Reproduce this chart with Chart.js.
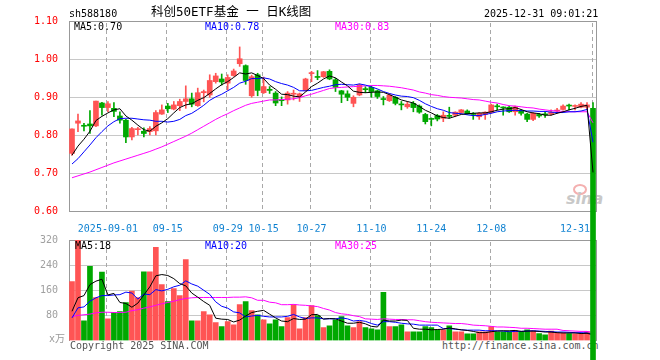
<!DOCTYPE html>
<html lang="zh-CN">
<head>
<meta charset="UTF-8">
<title>科创50ETF基金 一 日K线图</title>
<script src="https://cdn.jsdelivr.net/npm/chart.js"></script>
<style>
  body { margin: 0; background: #fff; }
  #box { position: relative; width: 660px; height: 360px; overflow: hidden; background: #fff; }
  #box canvas { position: absolute; left: 0; top: 0; }
  .t { position: absolute; font: 10px/10px "DejaVu Sans Mono", monospace; white-space: pre; color: #000; }
</style>
</head>
<body>
<div id="box">
  <!-- under the charts: the big last candle covers these -->
  <div class="t" style="left:442px;top:341px;color:#555">http://finance.sina.com.cn</div>
  <div style="position:absolute;left:573px;top:184px;width:10px;height:7px;border:2px solid #f4b0b0;border-radius:50%"></div>
  <div class="t" style="left:566px;top:191px;font:italic bold 16px/16px 'DejaVu Sans',sans-serif;color:#c8c8c8">sina</div>

  <canvas id="volChart" width="660" height="360"></canvas>
  <canvas id="kChart" width="660" height="360"></canvas>

  <div class="t" style="left:69px;top:9px">sh588180</div>
  <div class="t" style="left:151px;top:5px;font-size:12.5px;line-height:13px;font-family:'DejaVu Sans Mono','Noto Sans CJK SC',monospace">科创50ETF基金 一 日K线图</div>
  <div class="t" style="left:484px;top:9px">2025-12-31 09:01:21</div>
  <div class="t" style="left:74px;top:22px">MA5:0.70</div>
  <div class="t" style="left:205px;top:22px;color:#0000ff">MA10:0.78</div>
  <div class="t" style="left:335px;top:22px;color:#ff00ff">MA30:0.83</div>
  <div class="t" style="left:75px;top:241px">MA5:18</div>
  <div class="t" style="left:205px;top:241px;color:#0000ff">MA10:20</div>
  <div class="t" style="left:335px;top:241px;color:#ff00ff">MA30:25</div>
  <div class="t" style="left:49px;top:334px;color:#999;font-family:'DejaVu Sans Mono','Noto Sans CJK SC',monospace">x万</div>
  <div class="t" style="left:70px;top:341px;color:#555">Copyright 2025 SINA.COM</div>
</div>

<script>
    // 交易日 (2025)
    let days = [
        '08-22','08-25','08-26','08-27','08-28','08-29','09-01','09-02','09-03','09-04',
        '09-05','09-08','09-09','09-10','09-11','09-12','09-15','09-16','09-17','09-18',
        '09-19','09-22','09-23','09-24','09-25','09-26','09-29','09-30','10-09','10-10',
        '10-13','10-14','10-15','10-16','10-17','10-20','10-21','10-22','10-23','10-24',
        '10-27','10-28','10-29','10-30','10-31','11-03','11-04','11-05','11-06','11-07',
        '11-10','11-11','11-12','11-13','11-14','11-17','11-18','11-19','11-20','11-21',
        '11-24','11-25','11-26','11-27','11-28','12-01','12-02','12-03','12-04','12-05',
        '12-08','12-09','12-10','12-11','12-12','12-15','12-16','12-17','12-18','12-19',
        '12-22','12-23','12-24','12-25','12-26','12-29','12-30','12-31'
    ];
    let tickDays = ['09-01','09-15','09-29','10-15','10-27','11-10','11-24','12-08','12-31'];
    let tickText = ['2025-09-01','09-15','09-29','10-15','10-27','11-10','11-24','12-08','12-31      '];
    let priceTicks = [0.70, 0.80, 0.90, 1.00];
    let volTicks = [80, 160, 240];

    let open = [
        0.753,0.832,0.826,0.830,0.825,0.885,0.873,0.871,0.851,0.840,
        0.796,0.815,0.811,0.810,0.812,0.856,0.877,0.869,0.878,0.889,
        0.896,0.878,0.912,0.906,0.941,0.948,0.937,0.957,0.988,0.983,
        0.904,0.959,0.912,0.921,0.911,0.893,0.893,0.908,0.902,0.918,
        0.962,0.954,0.954,0.968,0.946,0.917,0.909,0.884,0.906,0.922,
        0.926,0.917,0.896,0.891,0.900,0.881,0.875,0.884,0.877,0.855,
        0.843,0.852,0.845,0.852,0.853,0.860,0.864,0.856,0.849,0.855,
        0.860,0.876,0.873,0.874,0.862,0.864,0.856,0.842,0.855,0.855,
        0.856,0.864,0.868,0.878,0.876,0.874,0.874,0.871
    ];
    let high = [
        0.817,0.856,0.832,0.865,0.890,0.887,0.889,0.886,0.862,0.842,
        0.821,0.821,0.820,0.823,0.865,0.880,0.884,0.889,0.895,0.930,
        0.911,0.924,0.919,0.959,0.963,0.961,0.959,0.974,1.032,0.985,
        0.958,0.963,0.953,0.928,0.915,0.901,0.915,0.919,0.911,0.950,
        0.968,0.970,0.968,0.972,0.950,0.918,0.917,0.904,0.935,0.928,
        0.930,0.919,0.902,0.910,0.902,0.889,0.889,0.889,0.880,0.858,
        0.846,0.855,0.862,0.874,0.862,0.868,0.867,0.860,0.860,0.862,
        0.882,0.882,0.875,0.877,0.877,0.868,0.858,0.860,0.858,0.862,
        0.867,0.871,0.880,0.882,0.880,0.886,0.886,0.886
    ];
    let low = [
        0.748,0.810,0.812,0.805,0.823,0.853,0.862,0.849,0.832,0.781,
        0.788,0.801,0.796,0.801,0.801,0.855,0.860,0.867,0.865,0.871,
        0.875,0.876,0.888,0.900,0.937,0.932,0.919,0.955,0.981,0.934,
        0.900,0.904,0.910,0.910,0.878,0.878,0.882,0.893,0.889,0.916,
        0.941,0.946,0.952,0.946,0.915,0.886,0.891,0.875,0.904,0.912,
        0.900,0.897,0.880,0.889,0.880,0.867,0.871,0.862,0.858,0.830,
        0.825,0.838,0.836,0.845,0.849,0.858,0.855,0.842,0.842,0.842,
        0.858,0.867,0.853,0.860,0.853,0.853,0.836,0.839,0.847,0.847,
        0.853,0.858,0.866,0.867,0.867,0.872,0.868,0
    ];
    let close = [
        0.817,0.838,0.824,0.825,0.890,0.873,0.883,0.863,0.840,0.796,
        0.818,0.817,0.805,0.818,0.860,0.867,0.870,0.880,0.889,0.896,
        0.882,0.912,0.915,0.944,0.956,0.940,0.952,0.969,1.001,0.944,
        0.954,0.918,0.928,0.918,0.885,0.891,0.911,0.910,0.909,0.948,
        0.964,0.952,0.967,0.948,0.926,0.908,0.900,0.900,0.932,0.920,
        0.915,0.902,0.894,0.906,0.884,0.880,0.882,0.873,0.861,0.836,
        0.842,0.843,0.853,0.850,0.861,0.867,0.856,0.855,0.858,0.861,
        0.880,0.875,0.872,0.862,0.875,0.858,0.842,0.858,0.851,0.854,
        0.861,0.865,0.877,0.877,0.877,0.882,0.880,0
    ];

    let ma5 = [
        0.748,0.772,0.790,0.811,0.839,0.850,0.859,0.867,0.870,0.851,
        0.840,0.827,0.815,0.811,0.824,0.833,0.844,0.859,0.873,0.880,
        0.883,0.892,0.899,0.910,0.922,0.933,0.941,0.952,0.964,0.961,
        0.964,0.957,0.949,0.932,0.921,0.908,0.907,0.903,0.901,0.914,
        0.928,0.937,0.948,0.956,0.951,0.940,0.930,0.916,0.913,0.912,
        0.913,0.914,0.913,0.907,0.900,0.893,0.889,0.885,0.876,0.866,
        0.859,0.851,0.847,0.845,0.850,0.855,0.857,0.858,0.859,0.859,
        0.862,0.866,0.869,0.870,0.873,0.868,0.862,0.859,0.857,0.853,
        0.853,0.858,0.862,0.867,0.871,0.876,0.879,0.703
    ];
    let ma10 = [
        0.725,0.739,0.757,0.775,0.794,0.810,0.825,0.836,0.844,0.845,
        0.845,0.843,0.841,0.840,0.837,0.837,0.835,0.837,0.842,0.852,
        0.858,0.868,0.879,0.892,0.901,0.908,0.917,0.926,0.937,0.942,
        0.949,0.949,0.951,0.948,0.941,0.936,0.932,0.926,0.917,0.917,
        0.918,0.922,0.926,0.929,0.933,0.934,0.933,0.932,0.935,0.932,
        0.927,0.922,0.915,0.910,0.906,0.903,0.902,0.899,0.892,0.883,
        0.876,0.870,0.866,0.860,0.858,0.857,0.854,0.852,0.852,0.855,
        0.858,0.862,0.864,0.865,0.866,0.865,0.864,0.864,0.863,0.863,
        0.861,0.860,0.860,0.862,0.862,0.864,0.868,0.782
    ];
    let ma30 = [
        0.689,0.694,0.699,0.704,0.710,0.716,0.722,0.728,0.733,0.738,
        0.743,0.748,0.753,0.758,0.764,0.770,0.777,0.784,0.791,0.798,
        0.806,0.815,0.824,0.833,0.842,0.850,0.857,0.865,0.872,0.879,
        0.884,0.887,0.890,0.893,0.893,0.894,0.895,0.896,0.899,0.904,
        0.908,0.913,0.918,0.923,0.925,0.926,0.927,0.928,0.929,0.930,
        0.931,0.931,0.930,0.929,0.927,0.925,0.922,0.919,0.914,0.911,
        0.907,0.905,0.902,0.900,0.899,0.898,0.896,0.894,0.893,0.890,
        0.887,0.885,0.881,0.878,0.877,0.875,0.873,0.872,0.869,0.867,
        0.865,0.864,0.863,0.862,0.862,0.862,0.862,0.833
    ];

    // 成交量 (万手)
    let vol = [
        188,322,63,236,137,218,69,90,92,121,
        157,137,219,219,297,178,124,165,143,258,
        63,63,92,82,57,44,60,50,114,124,
        95,82,66,53,66,44,73,114,37,73,
        111,79,41,47,66,76,47,41,60,41,
        37,34,153,44,44,50,28,28,28,44,
        41,34,34,47,28,28,21,21,28,28,
        44,28,28,28,31,28,34,31,22,18,
        30,24,24,22,21,21,28,0
    ];
    let volMa5 = [
        93,136,143,178,189,195,145,150,121,118,
        106,119,145,171,206,210,207,197,181,174,
        151,138,124,112,71,68,67,59,65,78,
        89,93,96,84,72,62,60,70,67,68,
        82,83,68,70,69,62,55,55,58,53,
        45,43,65,62,62,65,64,39,36,36,
        34,35,36,40,37,34,32,29,25,25,
        28,30,31,31,32,29,30,30,29,27,
        27,25,24,24,24,22,23,18
    ];
    let volMa10 = [
        72,104,107,125,136,143,143,145,146,154,
        151,132,148,146,162,158,163,171,176,190,
        180,173,160,147,123,109,103,91,88,75,
        78,80,77,75,75,75,77,83,75,70,
        72,72,69,69,69,72,69,62,64,61,
        54,49,60,60,58,55,53,52,49,49,
        49,49,38,38,36,34,33,33,33,31,
        31,31,30,28,29,29,30,31,30,29,
        28,27,27,26,25,25,24,20
    ];
    let volMa30 = [
        76,80,82,84,88,90,90,89,89,90,
        95,98,103,107,112,117,121,125,130,134,
        136,137,137,137,137,137,137,138,138,139,
        136,128,128,122,120,114,114,115,113,112,
        110,108,102,97,89,85,83,79,76,69,
        68,67,69,68,67,67,66,66,63,60,
        58,57,56,55,54,54,52,49,48,47,
        45,43,43,42,41,39,39,38,37,36,
        36,36,32,31,30,29,29,25
    ];

    Chart.defaults.font.family = '"DejaVu Sans Mono", monospace';
    Chart.defaults.font.size = 10;
    Chart.defaults.animation = false;

    let colors = close.map((c, i) => c >= open[i] ? '#ff5454' : '#00a800');
    let bodies = open.map((o, i) => [o, close[i]]);
    let wicks = low.map((l, i) => [l, high[i]]);

    function tickLabel(i) {
        let k = tickDays.indexOf(days[i]);
        return k >= 0 ? tickText[k] : '';
    }

    // grid and gray frame, placed with the chart's own scales
    let frame = {
        id: 'frame',
        beforeDatasetsDraw(chart, args, opts) {
            let a = chart.chartArea, c = chart.ctx;
            let xs = chart.scales.x, ys = chart.scales.y;
            let L = Math.floor(a.left), R = Math.floor(a.right);
            let T = Math.floor(a.top), B = Math.floor(a.bottom);
            c.save();

            // horizontal grid (dotted in the original, drawn as a light line)
            c.fillStyle = '#c8c8c8';
            opts.yLines.forEach(v => {
                let y = Math.floor(ys.getPixelForValue(v));
                c.fillRect(L + 1, y, R - L - 1, 1);
            });

            // vertical dashed grid
            c.fillStyle = '#a8a8a8';
            tickDays.forEach(d => {
                let x = Math.floor(xs.getPixelForValue(days.indexOf(d))) - 1;
                for (let y = T + 2; y < B; y += 7) c.fillRect(x, y, 1, Math.min(4, B - y));
            });

            c.fillStyle = '#999999';
            c.fillRect(L, T, R - L + 1, 1);
            c.fillRect(L, T, 1, B - T + 1);
            c.fillRect(R, T, 1, B - T + 1);
            if (opts.bottom) c.fillRect(L, B, R - L + 1, 1);
            c.restore();
        }
    };

    function maLine(data, color) {
        return { type: 'line', data: data, borderColor: color, borderWidth: 1, pointRadius: 0, tension: 0, order: 0 };
    }

    // K线
    new Chart(document.getElementById('kChart'), {
        type: 'bar',
        data: {
            labels: days,
            datasets: [
                maLine(ma5, '#000000'),
                maLine(ma10, '#0000ff'),
                maLine(ma30, '#ff00ff'),
                { data: wicks, backgroundColor: colors, barThickness: 1, grouped: false, clip: false, order: 2 },
                { data: bodies, backgroundColor: colors, barThickness: 5, minBarLength: 1, grouped: false, clip: false, order: 1 }
            ]
        },
        options: {
            responsive: false,
            events: [],
            layout: { padding: { top: 21, right: 64, bottom: 128.3, left: 0 } },
            plugins: { legend: { display: false }, tooltip: { enabled: false }, frame: { bottom: true, yLines: priceTicks } },
            scales: {
                x: {
                    grid: { display: false },
                    border: { display: false },
                    ticks: { autoSkip: false, maxRotation: 0, minRotation: 0, padding: 4, color: '#0a7fd0', callback: (v, i) => tickLabel(i) },
                    afterFit: s => { s.height = 20; }
                },
                y: {
                    min: 0.6,
                    max: 1.1,
                    grid: { display: false },
                    border: { display: false },
                    ticks: { stepSize: 0.1, color: '#ff0000', padding: 3, callback: v => v.toFixed(2) },
                    afterFit: s => { s.width = 69; }
                }
            }
        },
        plugins: [frame]
    });

    // 成交量
    new Chart(document.getElementById('volChart'), {
        type: 'bar',
        data: {
            labels: days,
            datasets: [
                maLine(volMa5, '#000000'),
                maLine(volMa10, '#0000ff'),
                maLine(volMa30, '#ff00ff'),
                { data: vol, backgroundColor: colors, barThickness: 5, order: 1 }
            ]
        },
        options: {
            responsive: false,
            events: [],
            layout: { padding: { top: 240, right: 64, bottom: 19.5, left: 0 } },
            plugins: { legend: { display: false }, tooltip: { enabled: false }, frame: { bottom: false, yLines: volTicks } },
            scales: {
                x: {
                    grid: { display: false },
                    border: { display: false },
                    ticks: { display: false },
                    afterFit: s => { s.height = 0; }
                },
                y: {
                    min: 0,
                    max: 320,
                    grid: { display: false },
                    border: { display: false },
                    ticks: { stepSize: 80, color: '#a0a0a0', padding: 3, callback: v => v === 0 ? '' : v },
                    afterFit: s => { s.width = 69; }
                }
            }
        },
        plugins: [frame]
    });
</script>
</body>
</html>
